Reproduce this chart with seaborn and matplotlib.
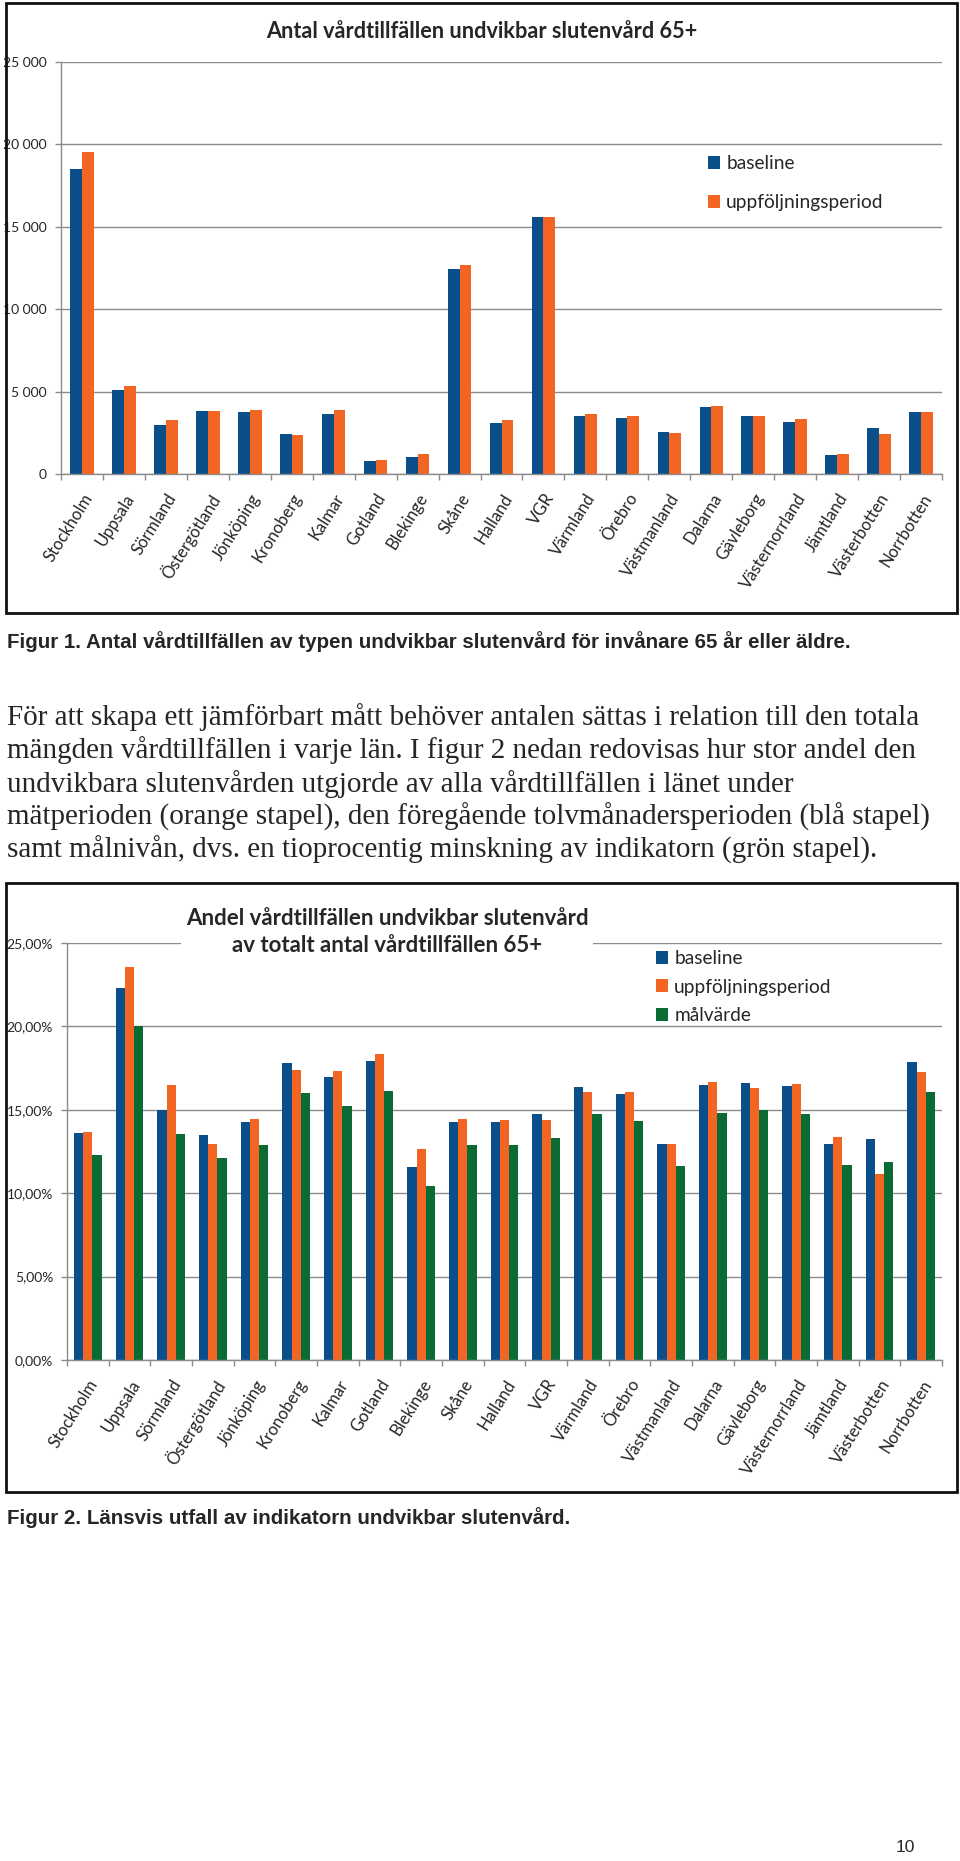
import matplotlib
matplotlib.use("Agg")
import matplotlib.pyplot as plt
import matplotlib.ticker as mticker
from matplotlib.patches import Rectangle
import pandas as pd
import seaborn as sns

lan = ["Stockholm", "Uppsala", "Sörmland", "Östergötland", "Jönköping", "Kronoberg",
       "Kalmar", "Gotland", "Blekinge", "Skåne", "Halland", "VGR", "Värmland", "Örebro",
       "Västmanland", "Dalarna", "Gävleborg", "Västernorrland", "Jämtland",
       "Västerbotten", "Norrbotten"]

# Figur 1: antal vårdtillfällen
antal_baseline = [18500, 5100, 3000, 3820, 3770, 2410, 3640, 790, 1050, 12450, 3120,
                  15580, 3520, 3420, 2570, 4070, 3520, 3180, 1150, 2810, 3770]
antal_uppf = [19520, 5350, 3300, 3820, 3890, 2350, 3890, 850, 1210, 12690, 3300,
              15580, 3640, 3520, 2510, 4130, 3520, 3360, 1210, 2410, 3770]

# Figur 2: andel i procent
andel_baseline = [13.62, 22.28, 15.00, 13.46, 14.28, 17.78, 16.94, 17.90, 11.56, 14.28,
                  14.28, 14.74, 16.34, 15.94, 12.92, 16.46, 16.58, 16.40, 12.92, 13.22, 17.84]
andel_uppf = [13.68, 23.58, 16.46, 12.94, 14.46, 17.38, 17.30, 18.32, 12.64, 14.42,
              14.36, 14.36, 16.06, 16.06, 12.92, 16.66, 16.28, 16.52, 13.34, 11.14, 17.24]
andel_mal = [12.28, 20.00, 13.52, 12.10, 12.86, 16.00, 15.22, 16.12, 10.46, 12.86,
             12.86, 13.28, 14.74, 14.34, 11.62, 14.80, 14.96, 14.74, 11.68, 11.90, 16.06]

serier1 = ["baseline", "uppföljningsperiod"]
serier2 = ["baseline", "uppföljningsperiod", "målvärde"]
farger = ["#0B4F8A", "#F26522", "#0A6B35"]

df1 = pd.DataFrame({"län": lan * 2,
                    "värde": antal_baseline + antal_uppf,
                    "serie": [serier1[0]] * 21 + [serier1[1]] * 21})
df2 = pd.DataFrame({"län": lan * 3,
                    "värde": andel_baseline + andel_uppf + andel_mal,
                    "serie": [serier2[0]] * 21 + [serier2[1]] * 21 + [serier2[2]] * 21})

sns.set_theme(style="white")
plt.rcParams["font.family"] = ["Lato", "DejaVu Sans"]

W, H = 960, 1861
fig = plt.figure(figsize=(W / 100, H / 100), dpi=100)


def rect(x0, y0, x1, y1):
    return [x0 / W, 1 - y1 / H, (x1 - x0) / W, (y1 - y0) / H]


def style_axes(ax, n):
    ax.set_xlim(-0.5, n - 0.5)
    ax.grid(axis="y", color="#8c8c8c", lw=1)
    ax.set_axisbelow(True)
    for s in ["top", "right"]:
        ax.spines[s].set_visible(False)
    for s in ["left", "bottom"]:
        ax.spines[s].set_color("#8c8c8c")
        ax.spines[s].set_linewidth(1)
    ax.set_xlabel("")
    ax.set_ylabel("")
    ax.set_xticks(range(n))
    ax.set_xticklabels(lan, rotation=58, ha="right", va="top",
                       rotation_mode="anchor", fontsize=12)
    ax.set_xticks([i - 0.5 for i in range(n + 1)], minor=True)
    ax.tick_params(axis="x", which="major", length=0, pad=12)
    ax.tick_params(axis="x", which="minor", length=4, color="#8c8c8c", width=1,
                   direction="out", bottom=True)
    ax.tick_params(axis="y", length=4, color="#8c8c8c", width=1, direction="out",
                   left=True, labelsize=10, pad=6)


# ---- Figur 1 ----
ax1 = fig.add_axes(rect(61, 62, 942, 474))
sns.barplot(data=df1, x="län", y="värde", hue="serie", order=lan, hue_order=serier1,
            palette=farger[:2], width=0.56, saturation=1, linewidth=0, ax=ax1)
ax1.set_ylim(0, 25000)
ax1.set_yticks(range(0, 25001, 5000))
ax1.yaxis.set_major_formatter(mticker.FuncFormatter(lambda v, p: f"{int(v):,}".replace(",", " ")))
style_axes(ax1, len(lan))
sns.move_legend(ax1, loc="upper left", bbox_to_anchor=(708 / W, 1 - 155 / H),
                bbox_transform=fig.transFigure, frameon=False, title=None, fontsize=13.8,
                handlelength=0.65, handleheight=0.65, handletextpad=0.3,
                labelspacing=1.15, borderpad=0, borderaxespad=0)
fig.text(482 / W, 1 - 31 / H, "Antal vårdtillfällen undvikbar slutenvård 65+",
         ha="center", va="center", fontsize=15.6, fontweight="bold")

# ---- Figur 2 ----
ax2 = fig.add_axes(rect(67, 943, 942, 1360))
sns.barplot(data=df2, x="län", y="värde", hue="serie", order=lan, hue_order=serier2,
            palette=farger, width=0.67, saturation=1, linewidth=0, ax=ax2)
ax2.set_ylim(0, 25)
ax2.set_yticks(range(0, 26, 5))
ax2.yaxis.set_major_formatter(mticker.FuncFormatter(lambda v, p: f"{v:.2f}%".replace(".", ",")))
style_axes(ax2, len(lan))
sns.move_legend(ax2, loc="upper left", bbox_to_anchor=(656 / W, 1 - 950 / H),
                bbox_transform=fig.transFigure, frameon=False, title=None, fontsize=13.8,
                handlelength=0.65, handleheight=0.65, handletextpad=0.3,
                labelspacing=0.6, borderpad=0, borderaxespad=0)
fig.text(387 / W, 1 - 932 / H,
         "Andel vårdtillfällen undvikbar slutenvård\nav totalt antal vårdtillfällen 65+",
         ha="center", va="center", fontsize=16, fontweight="bold", linespacing=1.35,
         bbox=dict(facecolor="white", edgecolor="none", pad=3), zorder=5)

# ramar runt diagrammen
for y0, y1 in [(3, 613), (883, 1492)]:
    fig.add_artist(Rectangle((6 / W, 1 - y1 / H), (957 - 6) / W, (y1 - y0) / H,
                             transform=fig.transFigure, fill=False, lw=2, edgecolor="#111111"))

# dokumenttext
caption_font = ["Liberation Sans", "DejaVu Sans"]
body_font = ["Liberation Serif", "DejaVu Serif"]
fig.text(7 / W, 1 - 642 / H,
         "Figur 1. Antal vårdtillfällen av typen undvikbar slutenvård för invånare 65 år eller äldre.",
         ha="left", va="center", fontsize=14.8, fontweight="bold", family=caption_font)

stycke = [
    "För att skapa ett jämförbart mått behöver antalen sättas i relation till den totala",
    "mängden vårdtillfällen i varje län. I figur 2 nedan redovisas hur stor andel den",
    "undvikbara slutenvården utgjorde av alla vårdtillfällen i länet under",
    "mätperioden (orange stapel), den föregående tolvmånadersperioden (blå stapel)",
    "samt målnivån, dvs. en tioprocentig minskning av indikatorn (grön stapel).",
]
for i, rad in enumerate(stycke):
    fig.text(7 / W, 1 - (717 + i * 33.3) / H, rad, ha="left", va="center",
             fontsize=21, family=body_font)

fig.text(7 / W, 1 - 1518 / H, "Figur 2. Länsvis utfall av indikatorn undvikbar slutenvård.",
         ha="left", va="center", fontsize=14.8, fontweight="bold", family=caption_font)
fig.text(905 / W, 1 - 1848 / H, "10", ha="center", va="center", fontsize=12.5,
         family=caption_font)

fig.savefig("out.png", dpi=100, facecolor="white")
